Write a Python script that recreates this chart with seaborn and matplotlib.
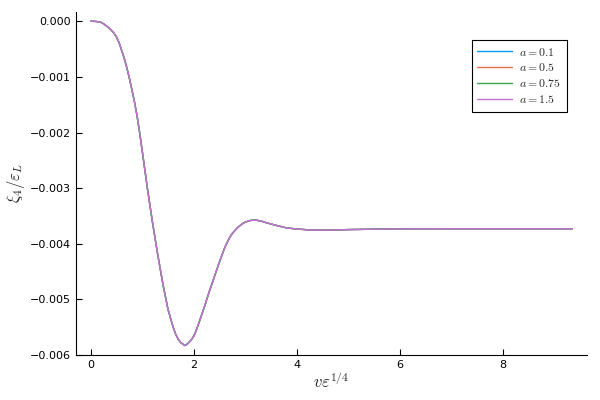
import pandas as pd
import matplotlib
matplotlib.use("Agg")
import matplotlib.pyplot as plt
import seaborn as sns

sns.set_style("ticks")
plt.rcParams["mathtext.fontset"] = "cm"
plt.rcParams["font.family"] = ["DejaVu Sans"]

# -----------------------------
# Data
# -----------------------------
a_values = ["0.1", "0.5", "0.75", "1.5"]
colors = ["#009AFA", "#E36F47", "#3EA44E", "#C371D2"]

x_vals = [0.0, 0.1, 0.2, 0.25, 0.3, 0.35, 0.4, 0.45, 0.5, 0.55, 0.6, 0.65,
          0.7, 0.75, 0.8, 0.85, 0.9, 0.95,
          1.0, 1.1, 1.2, 1.3, 1.4, 1.5, 1.6, 1.65, 1.7, 1.75, 1.8, 1.82,
          1.85, 1.9, 1.95, 2.0, 2.05, 2.1, 2.2, 2.3, 2.4, 2.5, 2.6, 2.65,
          2.7, 2.75, 2.8, 2.85, 2.9, 2.95, 3.0, 3.05, 3.1, 3.2, 3.3, 3.4,
          3.6, 3.8, 4.0, 4.3, 4.6, 5.0, 5.5, 6.0, 7.0, 8.0, 9.34]

# xi_4 / eps_L in units of 1e-3
y_vals = [0.0, -0.002, -0.02, -0.045, -0.08, -0.115, -0.16, -0.21, -0.28, -0.38, -0.52, -0.66,
          -0.83, -1.02, -1.23, -1.45, -1.70, -2.00,
          -2.33, -3.00, -3.62, -4.19, -4.72, -5.18, -5.50, -5.63, -5.72, -5.78, -5.81, -5.83,
          -5.82, -5.78, -5.73, -5.66, -5.55, -5.42, -5.15, -4.86, -4.59, -4.32, -4.07, -3.97,
          -3.88, -3.81, -3.76, -3.71, -3.67, -3.635, -3.61, -3.595, -3.58, -3.575, -3.59, -3.62,
          -3.67, -3.715, -3.735, -3.755, -3.755, -3.745, -3.738, -3.732, -3.73, -3.73, -3.73]

rows = []
for a in a_values:
    for xv, yv in zip(x_vals, y_vals):
        rows.append({"x": xv, "y": yv * 1e-3, "a": f"$a = {a}$"})
df = pd.DataFrame(rows)

# -----------------------------
# Plot
# -----------------------------
fig = plt.figure(figsize=(6, 4), dpi=100)
ax = fig.add_axes([0.127, 0.1125, 0.851, 0.8575])

sns.lineplot(data=df, x="x", y="y", hue="a", palette=colors,
             linewidth=1.0, ax=ax, sort=False, estimator=None)

ax.set_xlim(-0.28, 9.62)
ax.set_ylim(-0.006, 0.000167)
ax.set_xticks([0, 2, 4, 6, 8])
ax.set_yticks([0.0, -0.001, -0.002, -0.003, -0.004, -0.005, -0.006])
ax.set_yticklabels(["0.000", "\u22120.001", "\u22120.002", "\u22120.003",
                    "\u22120.004", "\u22120.005", "\u22120.006"])
ax.tick_params(direction="in", length=4, width=0.8, labelsize=8, colors="black")
sns.despine(ax=ax)
for s in ["left", "bottom"]:
    ax.spines[s].set_linewidth(0.8)
    ax.spines[s].set_color("black")

ax.set_xlabel(r"$v\varepsilon^{1/4}$", fontsize=12, labelpad=2)
ax.set_ylabel(r"$\xi_4/\varepsilon_L$", fontsize=12, labelpad=2)

leg = ax.legend(loc="upper right", bbox_to_anchor=(0.972, 0.935), fontsize=8.5,
                frameon=True, fancybox=False, edgecolor="black",
                handlelength=3.0, borderpad=0.45, labelspacing=0.25,
                handletextpad=0.6)
leg.get_frame().set_linewidth(0.8)
leg.get_frame().set_alpha(1)

fig.savefig("out.png", dpi=100)
